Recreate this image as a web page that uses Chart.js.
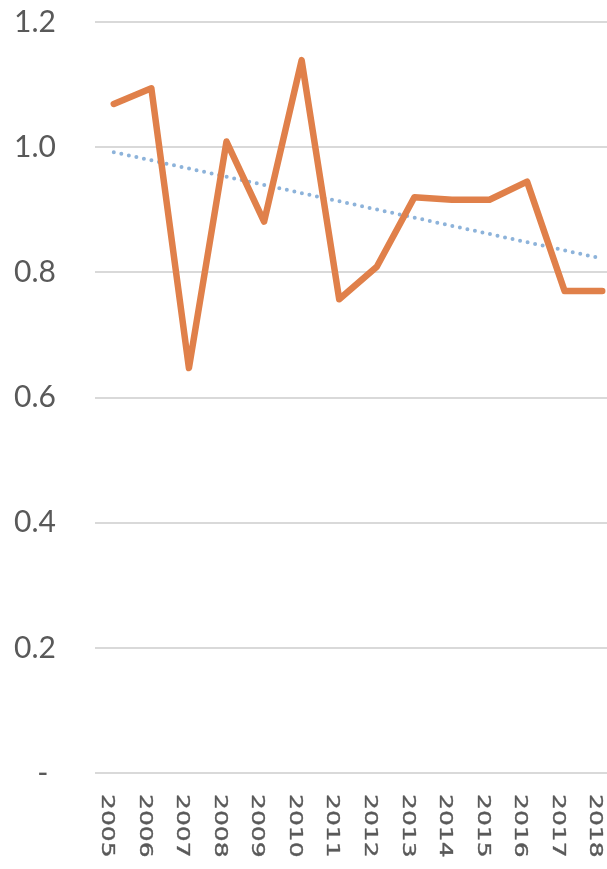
<!DOCTYPE html>
<html>
<head>
<meta charset="utf-8">
<script src="https://cdn.jsdelivr.net/npm/chart.js@4"></script>
<style>
  html, body { margin: 0; padding: 0; background: #ffffff; overflow: hidden; }
  #wrap { position: relative; width: 621px; height: 869px; }
</style>
</head>
<body>
<div id="wrap"><canvas id="c"></canvas></div>
<script>
// ---- data ----
const years = ['2005','2006','2007','2008','2009','2010','2011','2012','2013','2014','2015','2016','2017','2018'];
const ratioValues = [1.069, 1.094, 0.647, 1.009, 0.881, 1.139, 0.757, 0.809, 0.920, 0.916, 0.916, 0.945, 0.770, 0.770];
// linear trend line: values at first and last category
const trendValues = [0.992, null, null, null, null, null, null, null, null, null, null, null, null, 0.822];
const yTickLabels = ['- ', '0.2', '0.4', '0.6', '0.8', '1.0', '1.2'];

const textColor = '#595959';
const fontFamily = 'Lato, "Open Sans", "DejaVu Sans", sans-serif';

const xLabelPlugin = {
  id: 'xLabels',
  afterDraw(chart) {
    const xs = chart.scales.x;
    const ctx = chart.ctx;
    ctx.save();
    ctx.fillStyle = textColor;
    ctx.strokeStyle = textColor;
    ctx.lineWidth = 0.5;
    ctx.lineJoin = 'round';
    ctx.font = '25px "DejaVu Sans", sans-serif';
    ctx.textAlign = 'left';
    ctx.textBaseline = 'alphabetic';
    years.forEach((lab, i) => {
      const px = xs.getPixelForValue(i);
      ctx.save();
      ctx.translate(px - 11.8, chart.chartArea.bottom + 21);
      ctx.rotate(Math.PI / 2);
      ctx.scale(1, 0.68);
      ctx.fillText(lab, 0, 0);
      ctx.strokeText(lab, 0, 0);
      ctx.restore();
    });
    ctx.restore();
  }
};

new Chart(document.getElementById('c'), {
  type: 'line',
  data: {
    labels: years,
    datasets: [
      {
        label: 'Ratio',
        data: ratioValues,
        borderColor: '#E0804A',
        borderWidth: 6.5,
        borderCapStyle: 'round',
        borderJoinStyle: 'round',
        pointRadius: 0,
        tension: 0,
        fill: false,
        clip: false
      },
      {
        label: 'Trend',
        data: trendValues,
        spanGaps: true,
        borderColor: '#8DB3DA',
        borderWidth: 4,
        borderDash: [0, 7.7],
        borderCapStyle: 'round',
        pointRadius: 0,
        tension: 0,
        fill: false
      }
    ]
  },
  options: {
    responsive: true,
    maintainAspectRatio: false,
    animation: false,
    events: [],
    layout: { padding: { top: 22, bottom: 96, left: 0, right: 0 } },
    plugins: { legend: { display: false }, tooltip: { enabled: false } },
    scales: {
      x: {
        offset: true,
        grid: { display: false, drawTicks: false },
        border: { display: false },
        ticks: { display: false }
      },
      y: {
        min: 0,
        max: 1.2,
        afterFit(scale) { scale.width = 95; scale.paddingTop = 0; scale.paddingBottom = 0; },
        grid: { color: '#D9D9D9', lineWidth: 2, drawTicks: false },
        border: { display: false },
        ticks: {
          stepSize: 0.2,
          padding: 39,
          color: textColor,
          font: { family: fontFamily, size: 30 },
          callback: (v, i) => yTickLabels[i]
        }
      }
    }
  },
  plugins: [xLabelPlugin]
});
</script>
</body>
</html>
